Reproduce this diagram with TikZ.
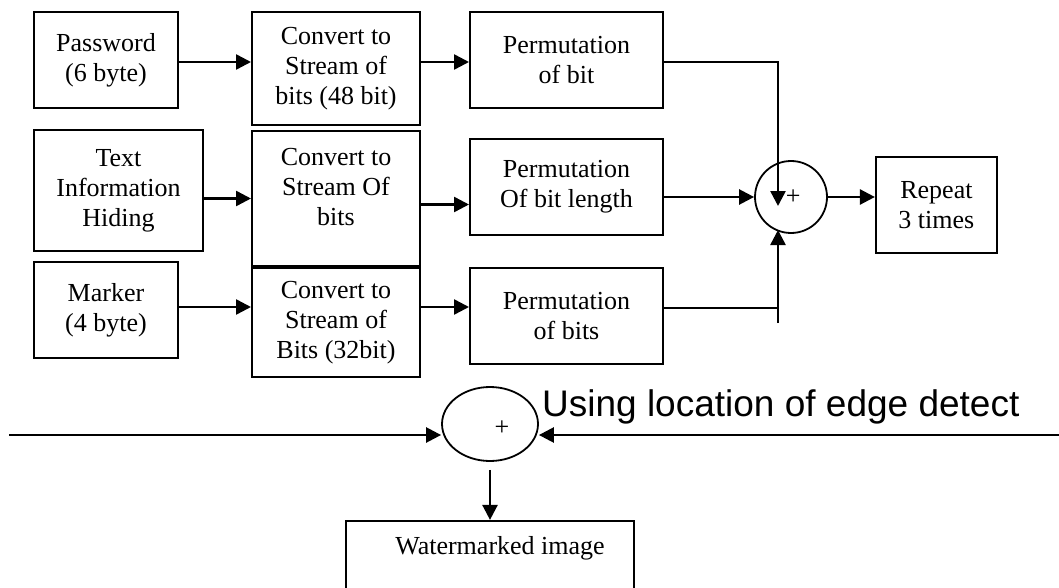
\documentclass[tikz,border=0pt]{standalone}
\usepackage{fontspec}
\setmainfont{Liberation Serif}
\newfontfamily\arialfont{Liberation Sans}
\usetikzlibrary{arrows.meta, positioning, calc, shapes.geometric}

\begin{document}
\begin{tikzpicture}[x=1pt, y=-1pt,
  box/.style={draw, line width=2pt, align=center,
    font=\fontsize{26}{30}\selectfont, inner sep=0pt},
  adder/.style={draw, line width=1.8pt, inner sep=0pt,
    font=\fontsize{26}{30}\selectfont},
  arr/.style={-{Triangle[length=15pt, width=15pt]}, line width=2.5pt},
  ln/.style={line width=2.5pt}]
\useasboundingbox (0,0) rectangle (1059,588);
% input blocks
\node[box, minimum width=144pt, minimum height=96pt] (pw) at (106,60) {Password\\(6 byte)};
\node[box, minimum width=169pt, minimum height=121pt, below=20pt of pw.south west, anchor=north west] (txt) {Text\\Information\\Hiding};
\node[box, minimum width=144pt, minimum height=96pt, below=9pt of txt.south west, anchor=north west] (mk) {Marker\\(4 byte)};
% bit streams
\node[box, minimum width=168pt, minimum height=113pt, right=72pt of pw.north east, anchor=north west] (cv1) {Convert to\\Stream of\\bits (48 bit)};
\node[box, minimum width=168pt, minimum height=135pt, below=4pt of cv1] (cv2) {Convert to\\Stream Of\\bits\\[-6pt]\mbox{}};
\node[box, minimum width=168pt, minimum height=109pt, below=0pt of cv2] (cv3) {Convert to\\Stream of\\Bits (32bit)};
% permutations
\node[box, minimum width=193pt, minimum height=96pt, right=48pt of cv1.north east, anchor=north west] (pm1) {Permutation\\of bit};
\node[box, minimum width=193pt, minimum height=96pt, below=29pt of pm1] (pm2) {Permutation\\Of bit length};
\node[box, minimum width=193pt, minimum height=96pt, below=31pt of pm2] (pm3) {Permutation\\of bits};
% combine and repeat
\node[adder, circle, minimum size=72pt] (sum) at (791,197) {\,+};
\node[box, minimum width=121pt, minimum height=96pt, right=47pt of sum, yshift=-8pt] (rep) {Repeat\\3 times};
% embedding
\node[adder, ellipse, minimum width=96pt, minimum height=74pt] (mix) at (490,424) {};
\node[font=\fontsize{26}{30}\selectfont, inner sep=0pt] (mixplus) at ([xshift=12pt, yshift=-4pt]mix.center) {+};
\node[box, minimum width=288pt, minimum height=90pt, below=58pt of mix, text depth=40pt] (wm) {\hspace*{20pt}Watermarked image};
\node[font=\arialfont\fontsize{37}{44}\selectfont, inner sep=0pt, anchor=base west] (edge) at (542,416) {Using location of edge detect};

\coordinate (r1) at ([yshift=-2pt]pw.east);
\coordinate (r2) at ([yshift=-6pt]cv2.east);
\coordinate (r3) at ([yshift=3pt]mk.east);
\coordinate (sumtop) at ([xshift=-13pt, yshift=-9pt]sum.center);
\coordinate (sumbot) at ([xshift=-13pt, yshift=-33pt]sum.center);
\coordinate (stub) at (778,323);
\coordinate (inL) at (9,435);
\coordinate (inR) at (1060,435);

\draw[arr] (r1) -- (r1 -| cv1.west);
\draw[arr] (r1 -| cv1.east) -- (r1 -| pm1.west);
\draw[arr] (cv2.west -| txt.east) -- (cv2.west);
\draw[arr] (r2) -- (r2 -| pm2.west);
\draw[arr] (r3) -- (r3 -| cv3.west);
\draw[arr] (r3 -| cv3.east) -- (r3 -| pm3.west);

\draw[arr] (r1 -| pm1.east) -| (sumtop);
\draw[arr] (pm2.east |- sum.west) -- (sum.west);
\draw[ln] ([yshift=8pt]pm3.east) -- ([yshift=8pt]pm3.east -| stub);
\draw[arr] (stub) -- (sumbot);
\draw[arr] (sum.east) -- (sum.east -| rep.west);

\draw[arr] (inL) -- (inL -| mix.west);
\draw[arr] (inR) -- (inR -| mix.east);
\draw[arr] ([yshift=-8pt]mix.south) -- (wm.north);
\end{tikzpicture}
\end{document}
